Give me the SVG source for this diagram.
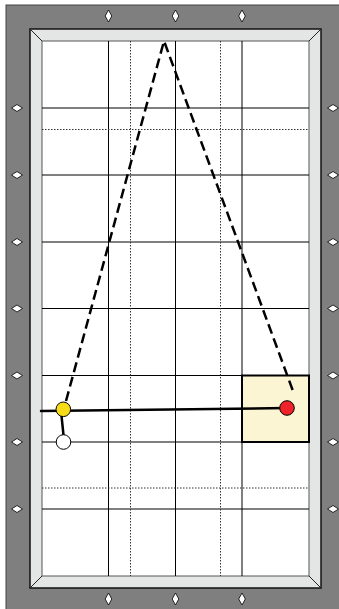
<svg xmlns="http://www.w3.org/2000/svg" width="339" height="609" viewBox="0 0 339 609">
<style>
.grid{stroke:#000;stroke-width:1;fill:none}
.dot{stroke:#333;stroke-width:1;stroke-dasharray:1.5,1.5;fill:none}
.dia{fill:#fff;stroke:#000;stroke-width:0.8}
.ball{stroke:#000;stroke-width:1}
.shot{stroke:#000;stroke-width:2.5;fill:none;stroke-linecap:round}
.dash{stroke:#000;stroke-width:2.5;fill:none;stroke-dasharray:10,5}
</style>
<defs>
<path id="dv" d="M0,-6 L3.3,0 L0,6 L-3.3,0 Z"/>
<path id="dh" d="M-5.5,0 L0,-3.5 L5.5,0 L0,3.5 Z"/>
</defs>
<g id="table">
<rect x="6" y="5" width="345" height="620" fill="#7f7f7f" stroke="#444" stroke-width="1"/>
<rect x="30" y="29" width="291" height="559" fill="#e4e6e6" stroke="#111" stroke-width="1.5"/>
<rect x="42" y="41" width="267" height="535" fill="#fff" stroke="#555" stroke-width="1"/>
<g stroke="#222" stroke-width="1">
<line x1="30" y1="29" x2="42" y2="41"/>
<line x1="321" y1="29" x2="309" y2="41"/>
<line x1="30" y1="588" x2="42" y2="576"/>
<line x1="321" y1="588" x2="309" y2="576"/>
</g>
</g>
<g id="diamonds">
<use href="#dv" x="108.5" y="16" class="dia"/>
<use href="#dv" x="175.5" y="16" class="dia"/>
<use href="#dv" x="242" y="16" class="dia"/>
<use href="#dv" x="108.5" y="599" class="dia"/>
<use href="#dv" x="175.5" y="599" class="dia"/>
<use href="#dv" x="242" y="599" class="dia"/>
<use href="#dh" x="17" y="108" class="dia"/>
<use href="#dh" x="17" y="175" class="dia"/>
<use href="#dh" x="17" y="242" class="dia"/>
<use href="#dh" x="17" y="308.5" class="dia"/>
<use href="#dh" x="17" y="375.5" class="dia"/>
<use href="#dh" x="17" y="442" class="dia"/>
<use href="#dh" x="17" y="509" class="dia"/>
<use href="#dh" x="333" y="108" class="dia"/>
<use href="#dh" x="333" y="175" class="dia"/>
<use href="#dh" x="333" y="242" class="dia"/>
<use href="#dh" x="333" y="308.5" class="dia"/>
<use href="#dh" x="333" y="375.5" class="dia"/>
<use href="#dh" x="333" y="442" class="dia"/>
<use href="#dh" x="333" y="509" class="dia"/>
</g>
<g id="highlight">
<rect x="242" y="375.5" width="67" height="66.5" fill="#fbf5d3"/>
</g>
<g id="grid">
<line class="grid" x1="108.5" y1="41" x2="108.5" y2="576"/>
<line class="grid" x1="175.5" y1="41" x2="175.5" y2="576"/>
<line class="grid" x1="242" y1="41" x2="242" y2="576"/>
<line class="grid" x1="42" y1="108" x2="309" y2="108"/>
<line class="grid" x1="42" y1="175" x2="309" y2="175"/>
<line class="grid" x1="42" y1="242" x2="309" y2="242"/>
<line class="grid" x1="42" y1="308.5" x2="309" y2="308.5"/>
<line class="grid" x1="42" y1="375.5" x2="309" y2="375.5"/>
<line class="grid" x1="42" y1="442" x2="309" y2="442"/>
<line class="grid" x1="42" y1="509" x2="309" y2="509"/>
<line class="dot" x1="130.5" y1="41" x2="130.5" y2="576"/>
<line class="dot" x1="220.5" y1="41" x2="220.5" y2="576"/>
<line class="dot" x1="42" y1="129.5" x2="309" y2="129.5"/>
<line class="dot" x1="42" y1="488" x2="309" y2="488"/>
</g>
<g id="highlight-border">
<rect x="242" y="375.5" width="67" height="66.5" fill="none" stroke="#000" stroke-width="2"/>
</g>
<g id="connectors">
<line class="shot" x1="41" y1="411" x2="287" y2="408"/>
<line class="shot" x1="61" y1="411" x2="64" y2="440"/>
<polyline class="dash" points="66,401 164,41 293,391"/>
</g>
<g id="ball-white"><circle class="ball" cx="63.5" cy="442" r="7.3" fill="#fff"/></g>
<g id="ball-yellow"><circle class="ball" cx="63.3" cy="409.3" r="7.3" fill="#f5dc17"/></g>
<g id="ball-red"><circle class="ball" cx="287" cy="408" r="7.3" fill="#ee2229"/></g>
</svg>
